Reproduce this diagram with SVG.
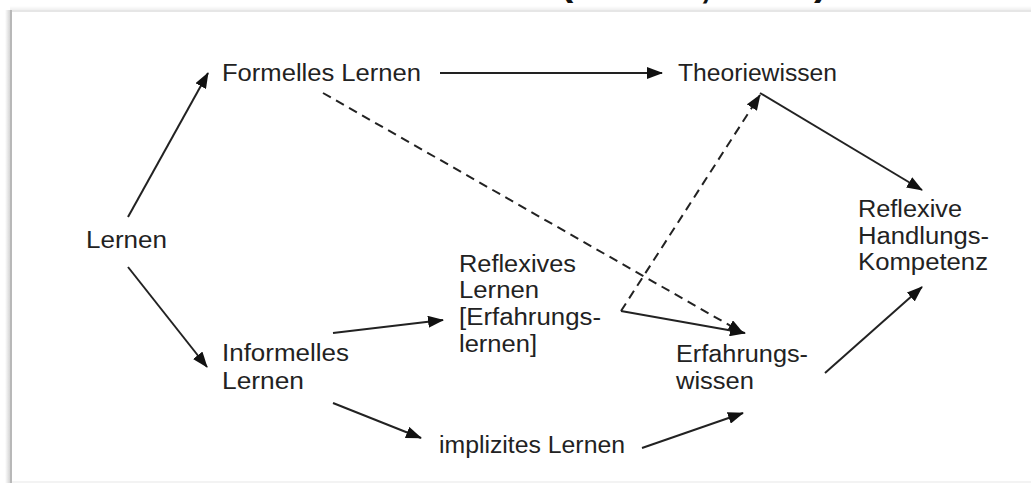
<svg xmlns="http://www.w3.org/2000/svg" width="1031" height="483" viewBox="0 0 1031 483">
  <style>
    .t { font-family: "Liberation Sans", Arial, sans-serif; font-size: 23px; fill: #222; }
    .frag { font-family: "Liberation Sans", Arial, sans-serif; font-size: 40px; font-weight: bold; fill: #111; }
    .c { stroke: #222; stroke-width: 2; fill: none; marker-end: url(#ah); }
    .d { stroke-dasharray: 9 6; }
  </style>
  <defs>
    <marker id="ah" markerUnits="userSpaceOnUse" markerWidth="16" markerHeight="12" refX="15" refY="6" orient="auto">
      <path d="M0,0 L16,6 L0,12 z" fill="#111"/>
    </marker>
    <linearGradient id="shL" x1="0" y1="0" x2="1" y2="0">
      <stop offset="0" stop-color="#ffffff"/>
      <stop offset="1" stop-color="#d4d4d4"/>
    </linearGradient>
    <linearGradient id="shT" x1="0" y1="0" x2="0" y2="1">
      <stop offset="0" stop-color="#ffffff"/>
      <stop offset="1" stop-color="#efefef"/>
    </linearGradient>
  </defs>
  <rect width="1031" height="483" fill="#fff"/>

  <!-- cropped heading fragments -->
  <g id="heading-fragment">
    <text class="frag" x="560" y="-5.5">(</text>
    <text class="frag" x="700" y="-3">,</text>
    <text class="frag" x="814" y="-5.5">)</text>
  </g>

  <!-- frame -->
  <g id="frame">
    <rect x="10" y="6" width="1021" height="4" fill="url(#shT)"/>
    <rect x="10" y="10" width="1021" height="2" fill="#e6e6e6"/>
    <rect x="5" y="10" width="5" height="473" fill="url(#shL)"/>
    <rect x="10" y="10" width="2" height="473" fill="#b8b8b8"/>
    <rect x="12" y="481" width="1019" height="2" fill="#f3f3f3"/>
  </g>

  <g id="connectors">
    <line class="c" x1="128" y1="217" x2="208" y2="73"/>
    <line class="c" x1="128" y1="267" x2="207" y2="367"/>
    <line class="c" x1="440" y1="73" x2="662" y2="73"/>
    <line class="c d" x1="323" y1="93" x2="743" y2="333"/>
    <line class="c" x1="333" y1="333" x2="443" y2="320"/>
    <line class="c" x1="333" y1="403" x2="421" y2="438"/>
    <line class="c" x1="621" y1="311" x2="745" y2="333"/>
    <line class="c d" x1="621" y1="311" x2="760" y2="95"/>
    <line class="c" x1="760" y1="93" x2="922" y2="190"/>
    <line class="c" x1="825" y1="373" x2="922" y2="287"/>
    <line class="c" x1="642" y1="448" x2="743" y2="413"/>
  </g>

  <g id="lernen">
    <text class="t" x="86" y="248" textLength="81" lengthAdjust="spacingAndGlyphs">Lernen</text>
  </g>
  <g id="formelles-lernen">
    <text class="t" x="222" y="81" textLength="199" lengthAdjust="spacingAndGlyphs">Formelles Lernen</text>
  </g>
  <g id="theoriewissen">
    <text class="t" x="678" y="81" textLength="159" lengthAdjust="spacingAndGlyphs">Theoriewissen</text>
  </g>
  <g id="informelles-lernen">
    <text class="t" x="222" y="361" textLength="127" lengthAdjust="spacingAndGlyphs">Informelles</text>
    <text class="t" x="222" y="389" textLength="82" lengthAdjust="spacingAndGlyphs">Lernen</text>
  </g>
  <g id="reflexives-lernen">
    <text class="t" x="459" y="272" textLength="117" lengthAdjust="spacingAndGlyphs">Reflexives</text>
    <text class="t" x="459" y="298" textLength="80" lengthAdjust="spacingAndGlyphs">Lernen</text>
    <text class="t" x="459" y="325" textLength="142" lengthAdjust="spacingAndGlyphs">[Erfahrungs-</text>
    <text class="t" x="459" y="352" textLength="78" lengthAdjust="spacingAndGlyphs">lernen]</text>
  </g>
  <g id="implizites-lernen">
    <text class="t" x="439" y="453" textLength="186" lengthAdjust="spacingAndGlyphs">implizites Lernen</text>
  </g>
  <g id="erfahrungswissen">
    <text class="t" x="676" y="362" textLength="132" lengthAdjust="spacingAndGlyphs">Erfahrungs-</text>
    <text class="t" x="676" y="389" textLength="78" lengthAdjust="spacingAndGlyphs">wissen</text>
  </g>
  <g id="reflexive-handlungskompetenz">
    <text class="t" x="858" y="217" textLength="104" lengthAdjust="spacingAndGlyphs">Reflexive</text>
    <text class="t" x="858" y="244" textLength="131" lengthAdjust="spacingAndGlyphs">Handlungs-</text>
    <text class="t" x="858" y="270" textLength="130" lengthAdjust="spacingAndGlyphs">Kompetenz</text>
  </g>
</svg>
